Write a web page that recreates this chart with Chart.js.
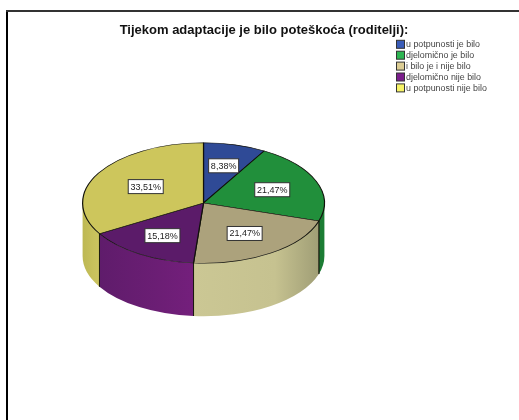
<!DOCTYPE html>
<html>
<head>
<meta charset="utf-8">
<style>
  html, body { margin: 0; padding: 0; background: #fff; overflow: hidden; }
  #wrap { position: relative; width: 519px; height: 420px; }
  #pie { display: block; filter: blur(0.45px); }
  .edge { position: absolute; background: #000; }
</style>
</head>
<body>
<div id="wrap">
  <canvas id="pie" width="519" height="420"></canvas>
  <div class="edge" style="left:6px;top:10px;width:2px;height:410px"></div>
  <div class="edge" style="left:6px;top:10px;width:513px;height:2px;background:#333"></div>
</div>
<script src="https://cdn.jsdelivr.net/npm/chart.js@4"></script>
<script>
/* ================= DATA ================= */

const chartTitle = "Tijekom adaptacije je bilo poteškoća (roditelji):";
const categories = ["u potpunosti je bilo", "djelomično je bilo", "i bilo je i nije bilo", "djelomično nije bilo", "u potpunosti nije bilo"];
const percents = [8.38, 21.47, 21.47, 15.18, 33.51];

/* ================= COLOURS ================= */

const topColors = ["#2f4a96", "#218f3b", "#aca27c", "#5b1b69", "#cdc65c"];
const sideLeft = ["#2f4a96", "#1c7d34", "#cbc794", "#5f1c6b", "#bdb853"];
const sideMid = ["#2f4a96", "#1c7d34", "#c6c290", "#6c1e75", "#c8c15c"];
const sideRight = ["#2f4a96", "#1c7d34", "#a09e76", "#741f7c", "#cbc460"];
const legendColors = ["#3a5cb8", "#2db552", "#dccd94", "#7b1e8c", "#f7f366"];

/* ================= 3D PIE PLUGIN ================= */

const squash = 0.498;   // top face ellipse ry / rx
const depth = 53;       // height of the side wall
const labelRadius = [0.64, 0.61, 0.61, 0.64, 0.55];

const pie3d = {
  id: "pie3d",
  beforeDatasetsDraw(chart) {
    const ctx = chart.ctx;
    const arcs = chart.getDatasetMeta(0).data;
    const { x: cx, y: cy, outerRadius: r } = arcs[0];
    const ry = r * squash;

    arcs.forEach((arc, i) => {
      // only the part of the slice facing the viewer has a wall
      const a = Math.max(arc.startAngle, 0);
      const b = Math.min(arc.endAngle, Math.PI);
      if (a >= b) return;
      const xa = cx + Math.cos(a) * r, xb = cx + Math.cos(b) * r;
      const grad = ctx.createLinearGradient(xb, 0, xa, 0);
      grad.addColorStop(0, sideLeft[i]);
      grad.addColorStop(0.65, sideMid[i]);
      grad.addColorStop(1, sideRight[i]);
      ctx.beginPath();
      ctx.ellipse(cx, cy, r, ry, 0, a, b);
      ctx.ellipse(cx, cy + depth, r, ry, 0, b, a, true);
      ctx.closePath();
      ctx.fillStyle = grad;
      ctx.fill();
      // dark vertical seam where two slices meet
      ctx.strokeStyle = "#1a1a10";
      ctx.lineWidth = 1;
      [a, b].forEach((t) => {
        if (t <= 0 || t >= Math.PI) return;
        const sx = cx + Math.cos(t) * r, sy = cy + Math.sin(t) * ry;
        ctx.beginPath();
        ctx.moveTo(sx, sy);
        ctx.lineTo(sx, sy + depth);
        ctx.stroke();
      });
    });

    ctx.save();
    ctx.translate(cx, cy);
    ctx.scale(1, squash);
    ctx.translate(-cx, -cy);
  },
  afterDatasetsDraw(chart) {
    const ctx = chart.ctx;
    ctx.restore();
    const arcs = chart.getDatasetMeta(0).data;

    // value boxes
    ctx.font = "9px 'Liberation Sans'";
    ctx.textAlign = "center";
    ctx.textBaseline = "middle";
    arcs.forEach((arc, i) => {
      const mid = (arc.startAngle + arc.endAngle) / 2;
      const lx = arc.x + Math.cos(mid) * arc.outerRadius * labelRadius[i];
      const ly = arc.y + Math.sin(mid) * arc.outerRadius * squash * labelRadius[i];
      const text = percents[i].toFixed(2).replace(".", ",") + "%";
      const w = Math.round(ctx.measureText(text).width) + 4;
      ctx.fillStyle = "#fff";
      ctx.strokeStyle = "#333";
      ctx.lineWidth = 1;
      ctx.fillRect(lx - w / 2, ly - 7, w, 14);
      ctx.strokeRect(lx - w / 2, ly - 7, w, 14);
      ctx.fillStyle = "#222";
      ctx.fillText(text, lx, ly + 0.5);
    });

    // title
    ctx.font = "bold 13px 'Liberation Sans'";
    ctx.fillStyle = "#111";
    ctx.fillText(chartTitle, 264, 30);

    // legend
    ctx.font = "8.9px 'Liberation Sans'";
    ctx.textAlign = "left";
    categories.forEach((name, i) => {
      const y = 44.3 + i * 10.9;
      ctx.fillStyle = legendColors[i];
      ctx.fillRect(396.5, y - 4, 8, 8);
      ctx.strokeStyle = "#333";
      ctx.strokeRect(396.5, y - 4, 8, 8);
      ctx.fillStyle = "#444";
      ctx.fillText(name, 406, y + 0.5);
    });
  }
};

/* ================= CHART ================= */

new Chart(document.getElementById("pie").getContext("2d"), {
  type: "pie",
  data: {
    labels: categories,
    datasets: [{
      data: percents,
      backgroundColor: topColors,
      borderColor: "#10100a",
      borderWidth: 1.2
    }]
  },
  options: {
    responsive: false,
    animation: false,
    layout: { padding: { left: 82, right: 194, top: 81.5, bottom: 95.5 } },
    plugins: {
      legend: { display: false },
      title: { display: false },
      tooltip: { enabled: false }
    }
  },
  plugins: [pie3d]
});
</script>
</body>
</html>
